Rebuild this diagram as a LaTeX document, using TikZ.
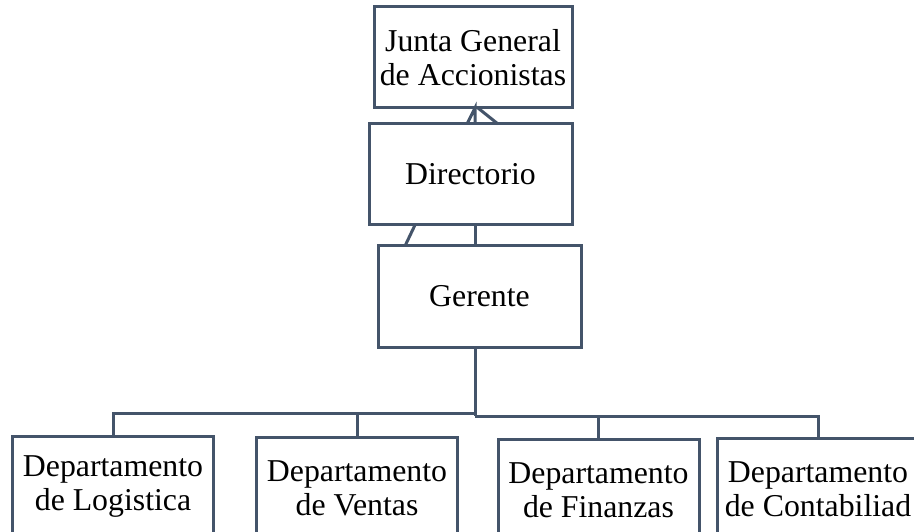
\documentclass[tikz,border=0pt]{standalone}
\usepackage{fontspec}
\setmainfont{Liberation Serif}
\definecolor{linea}{HTML}{44546A}
\tikzset{
  caja/.style={draw=linea, line width=3pt, minimum width=201pt, minimum height=101pt,
    inner sep=0pt, outer sep=0pt, align=center, font=\fontsize{31.8}{34}\selectfont},
  enlace/.style={draw=linea, line width=3pt}
}
\begin{document}
\begin{tikzpicture}[x=1pt,y=-1pt]
\useasboundingbox (0,0) rectangle (914,532);
% niveles superiores
\node [caja, minimum width=198pt] (junta) at (473,57.5) {Junta General\\de Accionistas};
\node [caja, minimum width=203pt] (directorio) at (470.5,174.5) {Directorio};
\node [caja, minimum width=203pt] (gerente) at (479.5,296.5) {Gerente};
% departamentos
\node [caja] (logistica) at (113,487) {Departamento\\de Logistica};
\node [caja] (ventas) at (357,488) {Departamento\\de Ventas};
\node [caja] (finanzas) at (598.5,490) {Departamento\\de Finanzas};
\node [caja] (contabilidad) at (818,489) {Departamento\\de Contabiliad};
% enlaces
\draw [enlace] ([xshift=-3.5pt]directorio.north) -- ([xshift=2pt]junta.south) -- ([xshift=4.5pt]directorio.north);
\draw [enlace] ([xshift=5pt]junta.south) -- ([xshift=27.5pt]directorio.north);
\draw [enlace] ([xshift=4.5pt]directorio.south) -- ([xshift=-4.5pt]gerente.north);
\draw [enlace] ([xshift=-55.5pt]directorio.south) -- ([xshift=-74.5pt]gerente.north);
\coordinate (busI) at (475,413);
\coordinate (busD) at (475,416);
\draw [enlace] ([xshift=-4.5pt]gerente.south) -- (busD);
\draw [enlace] (busI) -| (logistica.north);
\draw [enlace] (busI) -| (ventas.north);
\draw [enlace] (busD) -| (finanzas.north);
\draw [enlace] (busD) -| (contabilidad.north);
\end{tikzpicture}
\end{document}
